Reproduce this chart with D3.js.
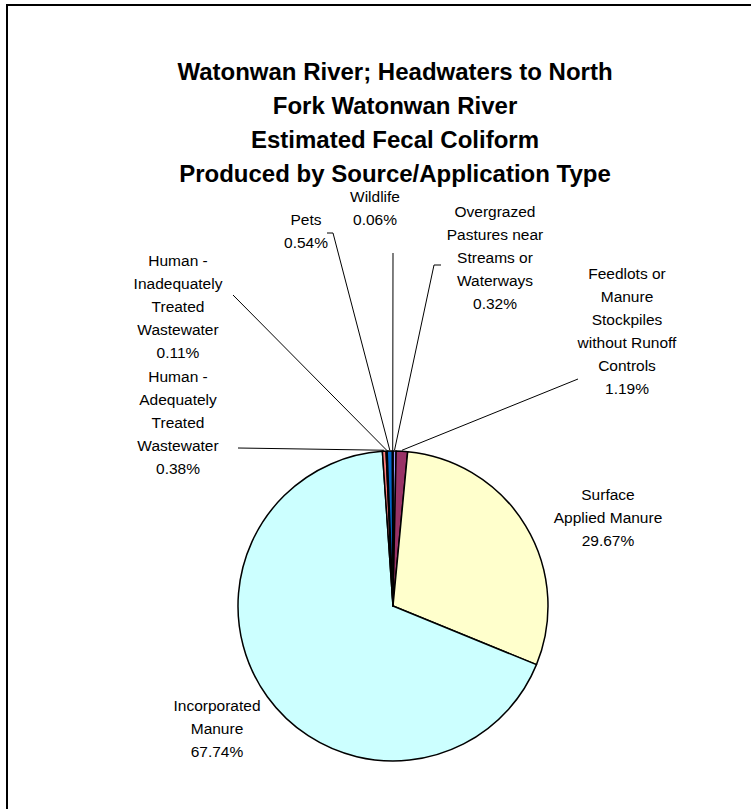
<!DOCTYPE html>
<html>
<head>
<meta charset="utf-8">
<script src="https://cdn.jsdelivr.net/npm/d3@7/dist/d3.min.js"></script>
<style>
  html, body { margin: 0; padding: 0; background: #fff; }
  svg { display: block; }
  text { font-family: "Liberation Sans", Arial, sans-serif; fill: #000; }
</style>
</head>
<body>
<svg id="chart" width="751" height="809"></svg>
<script>
// ---- data ----
const titleLines = [
  "Watonwan River; Headwaters to North",
  "Fork Watonwan River",
  "Estimated Fecal Coliform",
  "Produced by Source/Application Type"
];
const categories = [
  "Overgrazed Pastures near Streams or Waterways",
  "Feedlots or Manure Stockpiles without Runoff Controls",
  "Surface Applied Manure",
  "Incorporated Manure",
  "Human - Adequately Treated Wastewater",
  "Human - Inadequately Treated Wastewater",
  "Pets",
  "Wildlife"
];
const values = [0.32, 1.19, 29.67, 67.74, 0.38, 0.11, 0.54, 0.06];
const labelLines = [
  ["Overgrazed", "Pastures near", "Streams or", "Waterways"],
  ["Feedlots or", "Manure", "Stockpiles", "without Runoff", "Controls"],
  ["Surface", "Applied Manure"],
  ["Incorporated", "Manure"],
  ["Human -", "Adequately", "Treated", "Wastewater"],
  ["Human -", "Inadequately", "Treated", "Wastewater"],
  ["Pets"],
  ["Wildlife"]
];
const colors = ["#9999FF", "#993366", "#FFFFCC", "#CCFFFF", "#FF8080", "#660066", "#0066CC", "#CCCCFF"];

// ---- layout ----
const cx = 393, cy = 606, R = 155;
// label anchor (center x, first line y) and leader start points
const labelPos = [
  {x: 495, y: 211, lead: [[441, 265], [434, 265]]},
  {x: 627, y: 273, lead: [[578, 379]]},
  {x: 608, y: 494, lead: null},
  {x: 217, y: 705, lead: null},
  {x: 178, y: 376, lead: [[238, 448]]},
  {x: 178, y: 260, lead: [[233, 295]]},
  {x: 306, y: 219, lead: [[327, 233], [333, 233]]},
  {x: 375, y: 196, lead: [[393, 253]]}
];
const lineH = 23;

const svg = d3.select("#chart");

// border
svg.append("rect")
  .attr("x", 7).attr("y", 5).attr("width", 800).attr("height", 900)
  .attr("fill", "none").attr("stroke", "#000").attr("stroke-width", 2);

// title
const title = svg.append("text")
  .attr("text-anchor", "middle")
  .attr("font-size", 24).attr("font-weight", "bold");
titleLines.forEach((t, i) => {
  title.append("tspan").attr("x", 395).attr("y", 80 + i * 34).text(t);
});

// pie
const pie = d3.pie().sort(null).value(d => d).startAngle(0).endAngle(2 * Math.PI);
const arcs = pie(values);
const arc = d3.arc().innerRadius(0).outerRadius(R);
const g = svg.append("g").attr("transform", `translate(${cx},${cy})`);

g.selectAll("path.slice")
  .data(arcs)
  .enter().append("path")
  .attr("class", "slice")
  .attr("d", arc)
  .attr("fill", (d, i) => colors[i])
  .attr("stroke", "#000")
  .attr("stroke-width", 1.5)
  .attr("stroke-linejoin", "round");

// leader lines
arcs.forEach((d, i) => {
  const lp = labelPos[i];
  if (!lp.lead) return;
  const mid = (d.startAngle + d.endAngle) / 2;
  const ex = cx + Math.sin(mid) * (R + 1);
  const ey = cy - Math.cos(mid) * (R + 1);
  const pts = lp.lead.concat([[ex, ey]]);
  svg.append("path")
    .attr("d", d3.line()(pts))
    .attr("fill", "none")
    .attr("stroke", "#000")
    .attr("stroke-width", 1);
});

// labels
const fmt = v => v.toFixed(2) + "%";
arcs.forEach((d, i) => {
  const lp = labelPos[i];
  const t = svg.append("text")
    .attr("text-anchor", "middle")
    .attr("font-size", 15.5);
  const lines = labelLines[i].concat([fmt(values[i])]);
  lines.forEach((s, k) => {
    t.append("tspan").attr("x", lp.x).attr("y", lp.y + 6 + k * lineH).text(s);
  });
});
</script>
</body>
</html>
